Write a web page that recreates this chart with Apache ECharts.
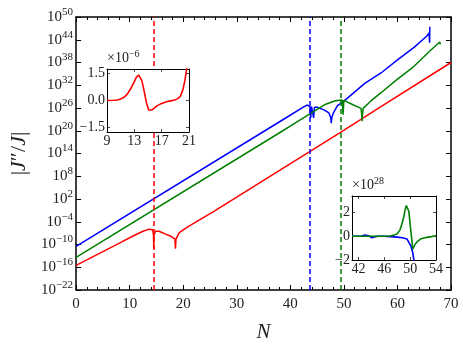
<!DOCTYPE html>
<html>
<head>
<meta charset="utf-8">
<script src="https://cdn.jsdelivr.net/npm/echarts@6/dist/echarts.min.js"></script>
<style>
html,body{margin:0;padding:0;background:#fff;}
#chart{width:463px;height:348px;}
</style>
</head>
<body>
<div id="chart"></div>
<script>
// main panel: log10 |J''/J| against N
var redLog = [[0,-15.5],[4,-12.6],[8,-9.7],[11,-7.5],[12.5,-6.5],[13.5,-6.0],[14.3,-6.1],[14.45,-7.5],[14.5,-11.1],[14.55,-7.5],[14.8,-6.5],[15.5,-6.5],[16.6,-7.2],[17.8,-7.9],[18.45,-8.6],[18.55,-11.1],[18.65,-8.6],[19.2,-7.0],[19.7,-6.4],[21,-5.2],[25.8,-1.2],[49.3,19.5],[57,26.4],[70,38.0]];
var blueLog = [[0,-10.5],[38.6,22.9],[42.5,26.3],[43.2,26.8],[43.65,26.3],[43.8,23.4],[43.95,26.4],[44.2,26.5],[44.35,23.4],[44.5,26.2],[45.0,26.2],[46.3,25.5],[47.2,24.7],[47.55,23.4],[47.65,22.0],[47.75,23.4],[48.0,24.6],[48.8,26.6],[49.9,27.7],[53.9,32.5],[57.0,35.3],[60.0,38.7],[63.1,42.0],[65.5,45.0],[65.9,45.8],[66.0,43.2],[66.05,47.4]];
var greenLog = [[0,-13.4],[38.6,20.0],[40.5,21.7],[43.5,24.3],[46.6,27.0],[48.4,27.9],[49.7,28.1],[49.85,24.2],[50.0,28.0],[50.2,27.9],[51.8,26.8],[53.2,25.9],[53.35,24.0],[53.4,22.5],[53.45,24.0],[53.6,25.9],[55,27.8],[57,30.1],[60,33.6],[62.5,36.3],[63.1,37.0],[66.1,41.1],[67.9,43.4],[68.0,42.8]];
var markN = {red: 14.5, blue: 43.6, green: 49.5};
var xTicksMain = [0, 70, 10];
var yTicksMain = [-22, 50, 6];

// inset 1: J''/J (x 1e-6), red
var insetRed = [[9,0],[10,0.01],[10.5,0.03],[11,0.08],[11.5,0.18],[12,0.37],[12.5,0.68],[13,1.05],[13.3,1.3],[13.65,1.41],[13.9,1.33],[14.1,1.1],[14.4,0.59],[14.6,0.2],[14.8,-0.16],[15.1,-0.53],[15.3,-0.59],[15.6,-0.52],[15.8,-0.44],[16.3,-0.3],[16.8,-0.2],[17.3,-0.12],[17.7,-0.07],[18.3,-0.02],[18.9,0.03],[19.3,0.09],[19.7,0.21],[20.1,0.59],[20.4,1.1],[20.6,1.6],[20.75,1.9]];
var inset1XTicks = [9, 13, 17, 21];
var inset1YTicks = [-1.5, 0, 1.5];

// inset 2: J''/J (x 1e28), blue and green
var insetBlue = [[41,0],[42.5,0.02],[43.0,0.1],[43.3,0.15],[43.6,0.05],[44.0,-0.12],[44.2,-0.15],[44.5,-0.05],[45,0],[46,0],[47,-0.03],[48,-0.07],[49,-0.14],[49.5,-0.22],[49.8,-0.37],[50.1,-0.8],[50.4,-1.37],[50.6,-2.1],[50.7,-2.5]];
var insetGreen = [[41,0],[44,0],[46,0.0],[46.9,0.03],[47.5,0.1],[48,0.22],[48.4,0.5],[48.7,1.0],[49,1.6],[49.2,2.2],[49.4,2.6],[49.5,2.7],[49.65,2.5],[49.8,2.1],[50,1.0],[50.1,0.5],[50.3,-0.5],[50.4,-1.08],[50.55,-0.95],[50.8,-0.65],[51.2,-0.4],[51.6,-0.23],[52.1,-0.14],[52.6,-0.09],[53.3,-0.03],[54,0.05]];
var inset2XTicks = [42, 46, 50, 54];
var inset2YTicks = [-2, 0, 2];

var FONT = 'Liberation Serif';
var BLACK = '#000';
var TXT = '#222';

function minus(v) { return v < 0 ? '\u2212' + (-v) : '' + v; }

function boxAxis(grid, pos, opt) {
  var a = {
    gridIndex: grid, type: 'value', position: pos,
    axisLine: {show: true, onZero: false, lineStyle: {color: BLACK, width: opt.lw}},
    axisTick: {show: true, inside: true, length: opt.tl, lineStyle: {color: BLACK, width: opt.lw * 0.7}},
    splitLine: {show: false},
    axisLabel: {show: false},
    min: opt.min, max: opt.max, z: opt.z
  };
  if (opt.interval) a.interval = opt.interval;
  if (opt.ticks) {
    a.axisTick.customValues = opt.ticks;
    a.axisLabel.customValues = opt.ticks;
  }
  if (opt.minor) a.minorTick = {show: true, splitNumber: opt.minor, length: 3, lineStyle: {color: BLACK, width: 1}};
  return a;
}

var chart = echarts.init(document.getElementById('chart'));

// main axes
var xMain = boxAxis(0, 'bottom', {lw: 1.5, tl: 5, min: xTicksMain[0], max: xTicksMain[1], interval: xTicksMain[2], minor: 5, z: 0});
xMain.axisLabel = {show: true, margin: 7, fontFamily: FONT, fontSize: 15, color: TXT};
xMain.name = 'N';
xMain.nameLocation = 'middle';
xMain.nameGap = 32;
xMain.nameTextStyle = {fontFamily: FONT, fontStyle: 'italic', fontSize: 21, color: TXT};
var xMainTop = boxAxis(0, 'top', {lw: 1.5, tl: 5, min: xTicksMain[0], max: xTicksMain[1], interval: xTicksMain[2], minor: 5, z: 0});

var yMain = boxAxis(0, 'left', {lw: 1.5, tl: 5, min: yTicksMain[0], max: yTicksMain[1], interval: yTicksMain[2], z: 0});
yMain.axisLabel = {
  show: true, margin: 3, fontFamily: FONT, fontSize: 15, color: TXT,
  formatter: function (v) { return '10{s|' + minus(v) + '}'; },
  rich: {s: {fontFamily: FONT, fontSize: 11, color: TXT, padding: [0, 0, 10, 0]}}
};
yMain.name = '{a||}{b|J}{a|\u2033/}{b|J}{a||}';
yMain.nameLocation = 'middle';
yMain.nameGap = 45;
yMain.nameTextStyle = {
  fontFamily: FONT, fontSize: 22, color: TXT,
  rich: {a: {fontFamily: FONT, fontSize: 22, color: TXT}, b: {fontFamily: FONT, fontSize: 22, fontStyle: 'italic', color: TXT}}
};
var yMainRight = boxAxis(0, 'right', {lw: 1.5, tl: 5, min: yTicksMain[0], max: yTicksMain[1], interval: yTicksMain[2], z: 0});

// inset 1 axes
var x1 = boxAxis(1, 'bottom', {lw: 1, tl: 3, min: 9, max: 21, ticks: inset1XTicks, z: 12});
x1.axisLabel = {show: true, customValues: inset1XTicks, margin: 2, fontFamily: FONT, fontSize: 14, color: TXT};
var x1t = boxAxis(1, 'top', {lw: 1, tl: 3, min: 9, max: 21, ticks: inset1XTicks, z: 12});
var y1 = boxAxis(1, 'left', {lw: 1, tl: 3, min: -1.75, max: 1.75, ticks: inset1YTicks, z: 12});
y1.axisLabel = {show: true, customValues: inset1YTicks, margin: 2, fontFamily: FONT, fontSize: 14, color: TXT,
  formatter: function (v) { return (v < 0 ? '\u2212' : '') + Math.abs(v).toFixed(1); }};
y1.name = '\u00d710{s|\u22126}';
y1.nameLocation = 'end';
y1.nameGap = 1;
y1.nameTextStyle = {align: 'left', fontFamily: FONT, fontSize: 14, color: TXT,
  rich: {s: {fontFamily: FONT, fontSize: 10, color: TXT, padding: [0, 0, 9, 0]}}};
var y1r = boxAxis(1, 'right', {lw: 1, tl: 3, min: -1.75, max: 1.75, ticks: inset1YTicks, z: 12});

// inset 2 axes
var x2 = boxAxis(2, 'bottom', {lw: 1, tl: 3, min: 41, max: 54, ticks: inset2XTicks, z: 12});
x2.axisLabel = {show: true, customValues: inset2XTicks, margin: 2, fontFamily: FONT, fontSize: 14, color: TXT};
var x2t = boxAxis(2, 'top', {lw: 1, tl: 3, min: 41, max: 54, ticks: inset2XTicks, z: 12});
var y2 = boxAxis(2, 'left', {lw: 1, tl: 3, min: -2, max: 3.4, ticks: inset2YTicks, z: 12});
y2.axisLabel = {show: true, customValues: inset2YTicks, margin: 2, fontFamily: FONT, fontSize: 14, color: TXT,
  formatter: function (v) { return minus(v); }};
y2.name = '\u00d710{s|28}';
y2.nameLocation = 'end';
y2.nameGap = 1;
y2.nameTextStyle = {align: 'left', fontFamily: FONT, fontSize: 14, color: TXT,
  rich: {s: {fontFamily: FONT, fontSize: 10, color: TXT, padding: [0, 0, 9, 0]}}};
var y2r = boxAxis(2, 'right', {lw: 1, tl: 3, min: -2, max: 3.4, ticks: inset2YTicks, z: 12});

function dashLine(n, color) {
  return {
    symbol: ['none', 'none'], silent: true, label: {show: false},
    lineStyle: {type: [5, 3], width: 1.5, color: color},
    data: [{xAxis: n}]
  };
}

function line(data, color, xi, yi, z, w, mark) {
  var s = {
    type: 'line', data: data, xAxisIndex: xi, yAxisIndex: yi, z: z,
    showSymbol: false, symbol: 'none', animation: false, clip: true,
    lineStyle: {color: color, width: w}, itemStyle: {color: color}
  };
  if (mark) s.markLine = mark;
  return s;
}

chart.setOption({
  animation: false,
  backgroundColor: '#fff',
  grid: [
    {left: 70, top: 17, width: 381, height: 278, show: false},
    {left: 107, top: 69, width: 82, height: 63, show: true, backgroundColor: '#fff', borderWidth: 0, z: 10},
    {left: 352, top: 196, width: 84, height: 64, show: true, backgroundColor: '#fff', borderWidth: 0, z: 10}
  ],
  xAxis: [xMain, xMainTop, x1, x1t, x2, x2t],
  yAxis: [yMain, yMainRight, y1, y1r, y2, y2r],
  series: [
    line(redLog, '#ff0000', 0, 0, 2, 1.5, dashLine(markN.red, '#ff0000')),
    line(blueLog, '#0000ff', 0, 0, 2, 1.5, dashLine(markN.blue, '#0000ff')),
    line(greenLog, '#008000', 0, 0, 2, 1.5, dashLine(markN.green, '#008000')),
    line(insetRed, '#ff0000', 2, 2, 12, 1.6),
    line(insetBlue, '#0000ff', 4, 4, 12, 1.6),
    line(insetGreen, '#008000', 4, 4, 12, 1.6)
  ]
});
</script>
</body>
</html>
